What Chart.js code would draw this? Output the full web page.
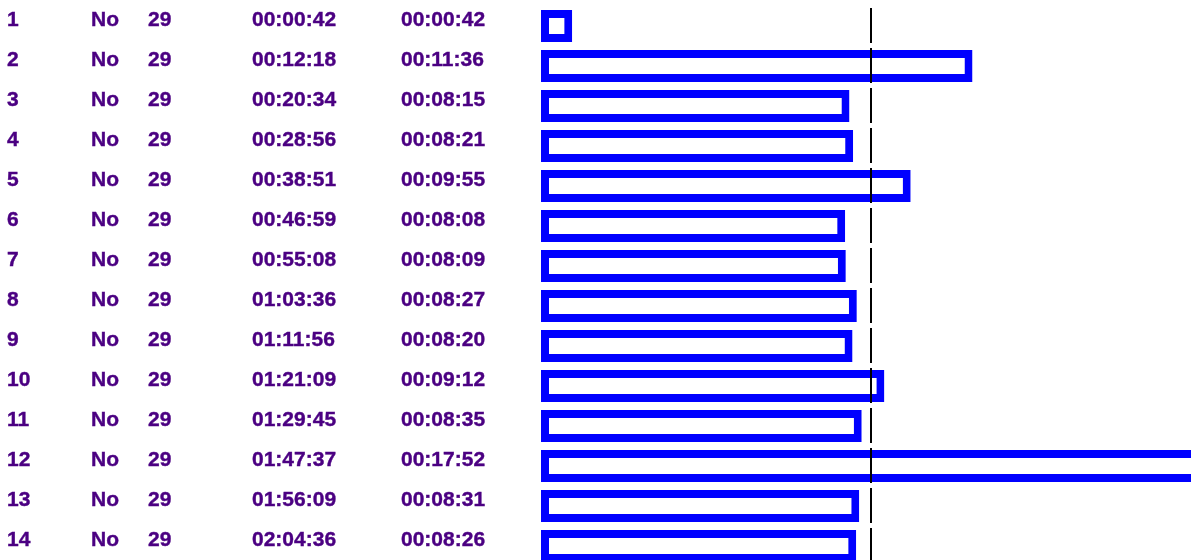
<!DOCTYPE html>
<html>
<head>
<meta charset="utf-8">
<script src="https://cdn.jsdelivr.net/npm/chart.js@4.4.1/dist/chart.umd.min.js"></script>
<style>
  html, body { margin: 0; padding: 0; background: #fff; overflow: hidden; }
  #wrap { position: relative; width: 1191px; height: 566px; }
</style>
</head>
<body>
<div id="wrap"><canvas id="lapChart"></canvas></div>
<script>
// table rows
const lapNos = ['1','2','3','4','5','6','7','8','9','10','11','12','13','14'];
const pitFlags = ['No','No','No','No','No','No','No','No','No','No','No','No','No','No'];
const carNos = ['29','29','29','29','29','29','29','29','29','29','29','29','29','29'];
const elapsed = ['00:00:42','00:12:18','00:20:34','00:28:56','00:38:51','00:46:59','00:55:08',
                 '01:03:36','01:11:56','01:21:09','01:29:45','01:47:37','01:56:09','02:04:36'];
const lapTimes = ['00:00:42','00:11:36','00:08:15','00:08:21','00:09:55','00:08:08','00:08:09',
                  '00:08:27','00:08:20','00:09:12','00:08:35','00:17:52','00:08:31','00:08:26'];
const refLapSec = 530; // dashed reference line (seconds)

const toSec = s => s.split(':').reduce((a, p) => a * 60 + Number(p), 0);
const lapSecs = lapTimes.map(toSec);

const textCols = [
  { x: 7,   vals: lapNos },
  { x: 91,  vals: pitFlags },
  { x: 148, vals: carNos },
  { x: 252, vals: elapsed },
  { x: 401, vals: lapTimes }
];

const tablePlugin = {
  id: 'lapTable',
  afterDraw(chart) {
    const ctx = chart.ctx;
    const yS = chart.scales.y, xS = chart.scales.x;
    ctx.save();
    ctx.fillStyle = '#4b0082';
    ctx.strokeStyle = '#4b0082';
    ctx.lineWidth = 0.4;
    ctx.font = 'bold 21px "Liberation Sans", Arial, sans-serif';
    ctx.textAlign = 'left';
    ctx.textBaseline = 'alphabetic';
    lapNos.forEach((_, i) => {
      const y = yS.getPixelForTick(i);
      textCols.forEach(c => {
        ctx.fillText(c.vals[i], c.x, y);
        ctx.strokeText(c.vals[i], c.x, y);
      });
    });
    // reference line
    const lx = Math.round(xS.getPixelForValue(refLapSec));
    ctx.strokeStyle = '#000';
    ctx.lineWidth = 2;
    ctx.setLineDash([35, 5]);
    ctx.beginPath();
    ctx.moveTo(lx, 8);
    ctx.lineTo(lx, chart.height);
    ctx.stroke();
    ctx.restore();
  }
};

new Chart(document.getElementById('lapChart').getContext('2d'), {
  type: 'bar',
  data: {
    labels: lapNos,
    datasets: [{
      data: lapSecs,
      base: -9,
      backgroundColor: '#ffffff',
      borderColor: '#0000ff',
      borderWidth: 8,
      borderSkipped: false,
      barPercentage: 1,
      categoryPercentage: 0.8
    }]
  },
  options: {
    indexAxis: 'y',
    responsive: true,
    maintainAspectRatio: false,
    animation: false,
    layout: { padding: { left: 541, right: 0, top: 6, bottom: 0 } },
    plugins: { legend: { display: false }, tooltip: { enabled: false } },
    scales: {
      x: { display: false, min: -9, max: 1053 },
      y: { display: false }
    }
  },
  plugins: [tablePlugin]
});
</script>
</body>
</html>
